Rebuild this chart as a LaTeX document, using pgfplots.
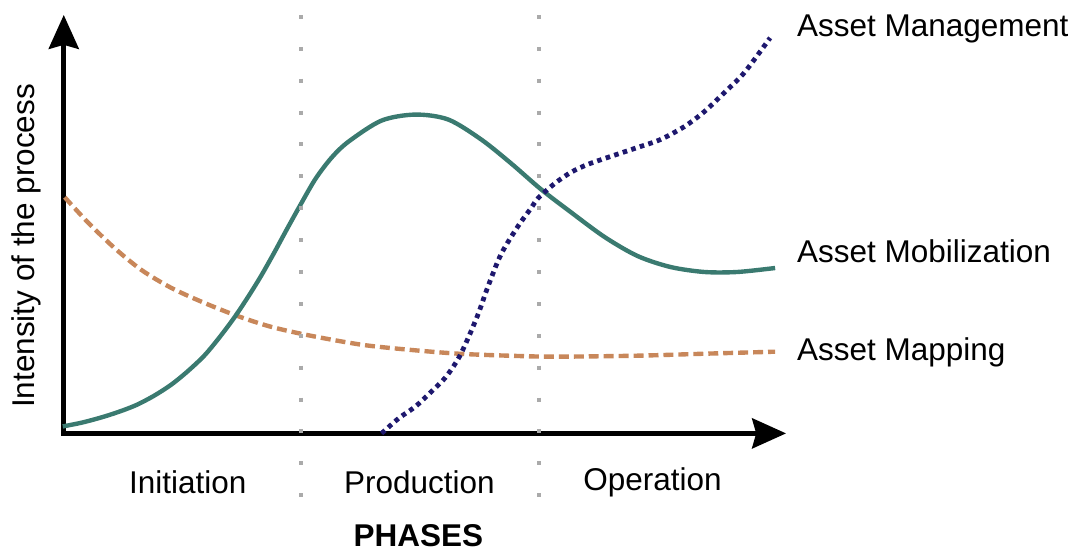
\documentclass[border=0pt]{standalone}
\usepackage{pgfplots}
\pgfplotsset{compat=1.18}
\usepackage{fontspec}
\setmainfont{Liberation Sans}
\usetikzlibrary{arrows.meta}
\definecolor{tealc}{RGB}{58,122,112}
\definecolor{orangec}{RGB}{200,135,90}
\definecolor{navyc}{RGB}{30,24,110}
\definecolor{grayc}{RGB}{170,170,170}
\begin{document}
\begin{tikzpicture}
\begin{axis}[
  x=0.5pt, y=0.5pt,
  xmin=0, xmax=727, ymin=0, ymax=421,
  hide axis, clip=false,
  every axis plot/.append style={line cap=butt},
]
% bounding box (reference frame 1075x553 px)
\path (axis cs:-63,-118) rectangle (axis cs:1012,435);
% axes
\draw[line width=2.5pt, -{Stealth[length=17pt,width=15pt,inset=2pt]}] (axis cs:-1.5,0) -- (axis cs:726,0);
\draw[line width=2.5pt, -{Stealth[length=17pt,width=15pt,inset=2pt]}] (axis cs:1,-2.5) -- (axis cs:1,420);
% Asset Mapping
\addplot[orangec, line width=2.2pt, dash pattern=on 5pt off 2.5pt, smooth, tension=0.5] coordinates {
(2,237) (25,212) (52,186) (79,164) (109,146) (142,131) (175,118) (209,107) (249,98) (300,89) (347,84) (397,80) (447,78) (494,77) (577,78) (645,80) (715,82)
};
% Asset Mobilization
\addplot[tealc, line width=2.2pt, smooth, tension=0.5] coordinates {
(0,7) (20,11) (42,17) (60,23) (75,29) (92,38) (109,49) (125,62) (142,78) (157,96) (172,116) (186,137) (199,158) (212,181) (225,205) (240,232) (254,256) (270,277) (287,293) (320,314) (354,320) (387,315) (420,295) (450,271) (480,245) (510,222) (544,197) (577,178) (610,167) (644,162) (677,162) (715,166)
};
% Asset Management
\addplot[navyc, line width=2.4pt, dash pattern=on 2.3pt off 2.2pt, smooth, tension=0.5] coordinates {
(320,0) (337,15) (354,27) (370,42) (384,56) (397,75) (407,96) (417,120) (427,148) (440,180) (457,208) (470,226) (477,236) (494,251) (510,262) (527,270) (550,278) (577,287) (600,295) (624,308) (644,323) (664,342) (684,362) (710,397)
};
% phase separators
\addplot[grayc, line width=2pt, dash pattern=on 2pt off 14pt] coordinates {(239,420) (239,-64)};
\addplot[grayc, line width=2pt, dash pattern=on 2pt off 14pt] coordinates {(478,420) (478,-64)};
% labels
\node[anchor=base west, font=\fontsize{15.8pt}{18pt}\selectfont] at (axis cs:730,398) {Asset Management};
\node[anchor=base west, font=\fontsize{15.8pt}{18pt}\selectfont] at (axis cs:730,172) {Asset Mobilization};
\node[anchor=base west, font=\fontsize{15.8pt}{18pt}\selectfont] at (axis cs:730,73) {Asset Mapping};
\node[anchor=base, font=\fontsize{15.8pt}{18pt}\selectfont] at (axis cs:125.5,-60) {Initiation};
\node[anchor=base, font=\fontsize{15.8pt}{18pt}\selectfont] at (axis cs:358,-60) {Production};
\node[anchor=base, font=\fontsize{15.8pt}{18pt}\selectfont] at (axis cs:592,-57) {Operation};
\node[anchor=base, font=\fontsize{15.8pt}{18pt}\selectfont\bfseries] at (axis cs:357,-114) {PHASES};
\node[anchor=base, rotate=90, font=\fontsize{15.8pt}{18pt}\selectfont] at (axis cs:-28,188) {Intensity of the process};
\end{axis}
\end{tikzpicture}
\end{document}
